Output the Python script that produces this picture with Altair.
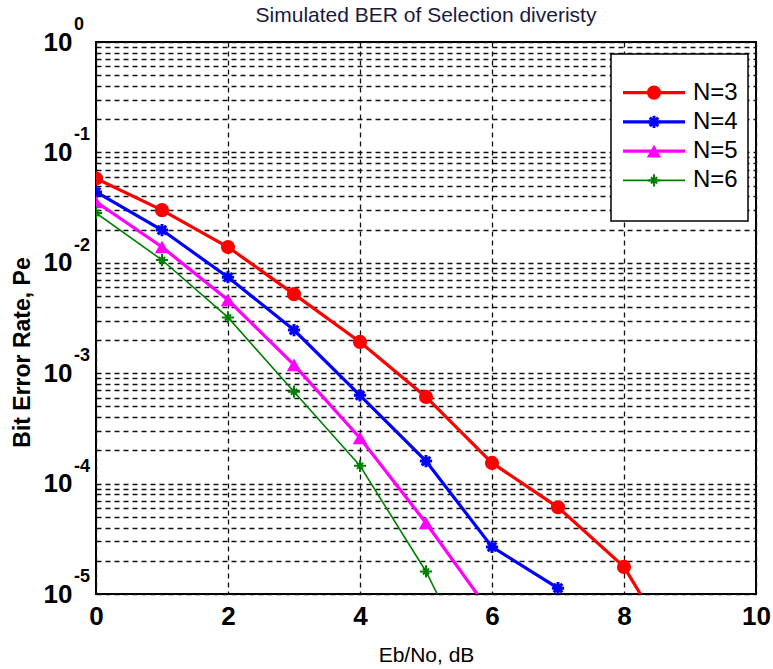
import altair as alt
import pandas as pd

# ---------------- data ----------------
ebno = [0, 1, 2, 3, 4, 5, 6, 7, 8, 9]
ber_n3 = [0.058, 0.030, 0.0139, 0.0052, 0.00192, 6.1e-4, 1.54e-4, 6.1e-5, 1.76e-5, 1.8e-6]
ber_n4 = [0.0438, 0.0198, 0.0074, 0.00246, 6.3e-4, 1.6e-4, 2.67e-5, 1.13e-5]
ber_n5 = [0.0356, 0.0139, 0.0046, 0.00119, 2.59e-4, 4.4e-5, 6.5e-6]
ber_n6 = [0.0283, 0.0106, 0.0032, 6.8e-4, 1.45e-4, 1.6e-5, 1.0e-6]

series_names = ["N=3", "N=4", "N=5", "N=6"]
series_values = [ber_n3, ber_n4, ber_n5, ber_n6]

x_ticks = [0, 2, 4, 6, 8, 10]
decade_exponents = [0, -1, -2, -3, -4, -5]
minor_multipliers = [1, 2, 3, 4, 5, 6, 7, 8, 9]

title_text = "Simulated BER of  Selection diveristy"

# ---------------- styles ----------------
ASTERISK = "M0,-1L0,1M-1,0L1,0M-0.7,-0.7L0.7,0.7M-0.7,0.7L0.7,-0.7"
PLUS = "M0,-1L0,1M-1,0L1,0M-0.5,-0.5L0.5,0.5M-0.5,0.5L0.5,-0.5"
series_colors = ["#ff0000", "#0000ff", "#ff00ff", "#008000"]
series_line_w = [3.2, 3.2, 3.2, 1.6]
series_shape = ["circle", ASTERISK, "triangle-up", PLUS]
series_filled = [True, False, True, False]
series_size = [200, 150, 210, 150]
series_mstroke = [1, 3, 1, 2]

FONT = "Liberation Sans"
GRID_COLOR = "#111111"

y_grid_values = sorted(m * 10.0 ** e for e in decade_exponents[1:] for m in minor_multipliers) + [1.0]

x_enc = alt.X(
    "x:Q",
    scale=alt.Scale(domain=[0, 10], nice=False, zero=False),
    axis=alt.Axis(
        values=x_ticks, title="Eb/No, dB", grid=True, ticks=False, domain=False,
        labelFontSize=26, labelFontWeight="bold", labelFont=FONT, labelColor="black",
        labelPadding=9, labelFlush=False,
        titleFont=FONT, titleFontSize=21, titleFontWeight="normal", titleColor="black",
        titleY=61, titleBaseline="middle",
        gridColor=GRID_COLOR, gridDash=[5, 4], gridWidth=1.3, gridOpacity=1,
    ),
)
y_enc = alt.Y(
    "ber:Q",
    scale=alt.Scale(type="log", domain=[1e-5, 1], nice=False),
    axis=alt.Axis(
        values=y_grid_values,
        labelExpr="abs(log(datum.value)/LN10 - round(log(datum.value)/LN10)) < 1e-6 ? '10' : ''",
        labelOverlap=False, labelBound=False,
        title="Bit Error Rate, Pe", grid=True, ticks=False, domain=False,
        labelFontSize=26, labelFontWeight="bold", labelFont=FONT, labelColor="black",
        labelPadding=24, labelBaseline="middle",
        titleFont=FONT, titleFontSize=23, titleFontWeight="bold", titleColor="black",
        titleX=-74, titleY=310, titleAngle=270, titleBaseline="middle", titleAlign="center",
        gridColor=GRID_COLOR, gridDash=[5, 4], gridWidth=1.3, gridOpacity=1,
    ),
)

main_layers = []
for name, vals, col, lw, shp, fil, sz, msw in zip(
    series_names, series_values, series_colors, series_line_w,
    series_shape, series_filled, series_size, series_mstroke
):
    df = pd.DataFrame({"x": ebno[: len(vals)], "ber": vals, "N": name})
    line = alt.Chart(df).mark_line(color=col, strokeWidth=lw, clip=True).encode(x=x_enc, y=y_enc)
    pts = alt.Chart(df).mark_point(
        shape=shp, filled=fil, color=col, size=sz, strokeWidth=msw, opacity=1, clip=True
    ).encode(x=x_enc, y=y_enc)
    main_layers += [line, pts]

# exponent superscripts of the y tick labels
exp_df = pd.DataFrame({
    "x": [0] * len(decade_exponents),
    "ber": [10.0 ** e for e in decade_exponents],
    "label": [str(e) for e in decade_exponents],
})
exp_text = alt.Chart(exp_df).mark_text(
    align="left", baseline="middle", dy=-17, fontSize=18, fontWeight="bold",
    font=FONT, color="black"
).encode(x=alt.value(-22), y=y_enc, text="label:N")
main_layers.append(exp_text)

main = alt.layer(*main_layers)

# ---------------- legend box and title ----------------
leg_y = alt.Y("N:N", scale=alt.Scale(domain=series_names, range=[36, 153], padding=0), axis=None)
box = alt.Chart(pd.DataFrame({"N": ["box"]})).mark_rect(
    fill="white", stroke="black", strokeWidth=1.5
).encode(x=alt.value(515), x2=alt.value(652), y=alt.value(12), y2=alt.value(179))
title_mark = alt.Chart(pd.DataFrame({"t": [title_text]})).mark_text(
    align="center", baseline="middle", fontSize=21, font=FONT, color="#1a1a40"
).encode(x=alt.value(330), y=alt.value(-26), text="t:N")
legend_layers = [box, title_mark]
for name, col, lw, shp, fil, sz, msw in zip(
    series_names, series_colors, series_line_w, series_shape,
    series_filled, series_size, series_mstroke
):
    row = pd.DataFrame({"N": [name]})
    legend_layers.append(
        alt.Chart(row).mark_rule(color=col, strokeWidth=lw).encode(
            x=alt.value(527), x2=alt.value(589), y=leg_y)
    )
    legend_layers.append(
        alt.Chart(row).mark_point(shape=shp, filled=fil, color=col, size=sz,
                                  strokeWidth=msw, opacity=1).encode(x=alt.value(558), y=leg_y)
    )
    legend_layers.append(
        alt.Chart(row).mark_text(align="left", baseline="middle", fontSize=24,
                                 font=FONT, color="black").encode(
            x=alt.value(597), y=leg_y, text="N:N")
    )
legend = alt.layer(*legend_layers)

chart = (
    alt.layer(main, legend)
    .resolve_scale(y="independent")
    .properties(
        width=660, height=552,
        padding={"left": 96, "top": 42, "right": 17, "bottom": 75},
        autosize=alt.AutoSizeParams(type="none"),
        background="white",
    )
    .configure_view(stroke="black", strokeWidth=2)
)

chart.save("out.html", embed_options={"renderer": "svg", "actions": False})
